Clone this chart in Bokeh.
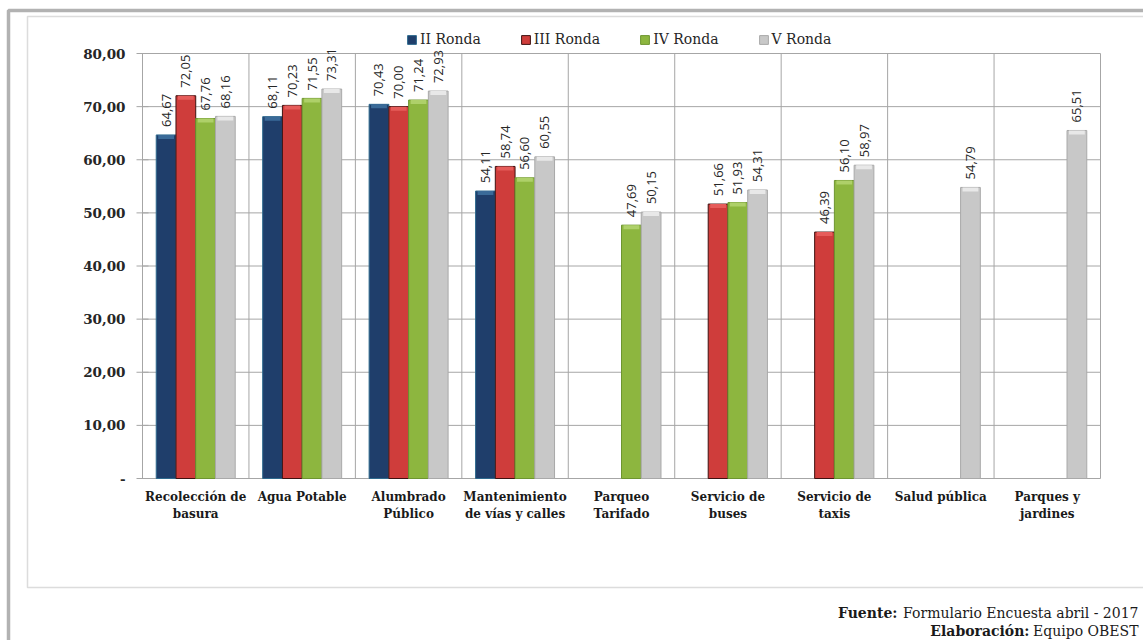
import numpy as np
from bokeh.plotting import figure
from bokeh.models import (ColumnDataSource, Legend, LegendItem, Label,
                          BoxAnnotation, Range1d)
from bokeh.core.properties import value
from bokeh.embed import file_html
from bokeh.resources import INLINE

nan = float("nan")
categories = ["Recolección de\nbasura", "Agua Potable", "Alumbrado\nPúblico",
              "Mantenimiento\nde vías y calles", "Parqueo\nTarifado",
              "Servicio de\nbuses", "Servicio de\ntaxis", "Salud pública",
              "Parques y\njardines"]
series_names = ["II Ronda", "III Ronda", "IV Ronda", "V Ronda"]
ronda_ii = [64.67, 68.11, 70.43, 54.11, nan, nan, nan, nan, nan]
ronda_iii = [72.05, 70.23, 70.00, 58.74, nan, 51.66, 46.39, nan, nan]
ronda_iv = [67.76, 71.55, 71.24, 56.60, 47.69, 51.93, 56.10, nan, nan]
ronda_v = [68.16, 73.31, 72.93, 60.55, 50.15, 54.31, 58.97, 54.79, 65.51]
y_ticks = [0, 10, 20, 30, 40, 50, 60, 70, 80]
y_tick_labels = ["-", "10,00", "20,00", "30,00", "40,00", "50,00", "60,00",
                 "70,00", "80,00"]
source_bold = "Fuente:"
source_text = "Formulario Encuesta abril - 2017"
credit_bold = "Elaboración:"
credit_text = "Equipo OBEST"

# ---- styling ----
fills = ["#1F3E6B", "#CF3D3B", "#8DB63F", "#C8C8C8"]
caps = ["#3A6A98", "#E65C5A", "#AED069", "#E8E8E8"]
lines = ["#2E6A8E", "#3E1211", "#6E9530", "#A9A9A9"]
GRID = "#A6A6A6"
TXT = "#1A1A1A"

# ---- layout (pixels) ----
W, H = 1143, 640
PX_L, PX_R, PX_T, PX_B = 142, 1100, 53, 478
n = len(categories)
ymax = y_ticks[-1]
xu = n / (PX_R - PX_L)          # data units per px (x)
yu = ymax / (PX_B - PX_T)       # data units per px (y)

p = figure(width=W, height=H, output_backend="svg", toolbar_location=None,
           x_range=Range1d(-PX_L * xu, n + (W - PX_R) * xu),
           y_range=Range1d(-(H - PX_B) * yu, ymax + PX_T * yu),
           x_axis_location=None, y_axis_location=None,
           min_border=0, min_border_left=0, min_border_right=0,
           min_border_top=0, min_border_bottom=0)
p.grid.visible = False
p.outline_line_color = None
p.background_fill_color = "white"
p.border_fill_color = "white"

# ---- plot-area grid ----
p.segment(x0=[0] * len(y_ticks), x1=[n] * len(y_ticks), y0=y_ticks,
          y1=y_ticks, line_color=GRID, line_width=1)
p.segment(x0=list(range(n + 1)), x1=list(range(n + 1)), y0=[0] * (n + 1),
          y1=[ymax] * (n + 1), line_color=GRID, line_width=1)
p.scatter(x=[0] * len(y_ticks), y=y_ticks, marker="dash", size=12,
          line_color=GRID, line_width=1)

# ---- value-axis labels ----
p.text(x=[0] * len(y_ticks), y=y_ticks, text=y_tick_labels, x_offset=-17,
       text_align="right", text_baseline="middle",
       text_font=value("DejaVu Serif"), text_font_style="bold",
       text_font_size="13.5px", text_color="#262626")

# ---- category labels ----
centers = [i + 0.5 for i in range(n)]
p.text(x=centers, y=[0] * n, text=categories, y_offset=11,
       text_align="center", text_baseline="top", text_line_height=1.25,
       text_font=value("DejaVu Serif"), text_font_style="bold",
       text_font_size="12px", text_color=TXT)

# ---- bars ----
bw = 0.1855
all_series = [ronda_ii, ronda_iii, ronda_iv, ronda_v]
items = []
for k, vals in enumerate(all_series):
    off = (k - 1.5) * bw
    xs = [c + off for c, v in zip(centers, vals) if not np.isnan(v)]
    ys = [v for v in vals if not np.isnan(v)]
    labs = [f"{v:.2f}".replace(".", ",") for v in ys]
    src = ColumnDataSource(dict(x=xs, top=ys, lab=labs,
                                capb=[v - 4 * yu for v in ys]))
    r = p.vbar(x="x", top="top", bottom=0, width=bw, source=src,
               fill_color=fills[k], line_color=lines[k], line_width=1)
    p.vbar(x="x", top="top", bottom="capb", width=bw * 0.8, source=src,
           fill_color=caps[k], line_color=None)
    items.append(LegendItem(label=series_names[k], renderers=[r]))
    p.text(x="x", y="top", text="lab", source=src, angle=np.pi / 2,
           text_align="left", text_baseline="middle", y_offset=-8,
           text_font=value("Open Sans"), text_font_size="13px",
           text_color="#262626")

legend = Legend(items=items, orientation="horizontal",
                location=(406, H - 47),
                label_text_font="DejaVu Serif", label_text_font_size="14px",
                label_text_color="#262626", glyph_width=11, glyph_height=11,
                spacing=39, label_standoff=3, border_line_color=None,
                background_fill_alpha=0, margin=0, padding=4)
p.add_layout(legend)

# ---- frames ----
p.add_layout(BoxAnnotation(left=8, right=W + 50, top=H - 10, bottom=-50,
                           left_units="screen", right_units="screen",
                           top_units="screen", bottom_units="screen",
                           fill_alpha=0, line_color="black", line_width=3.5))
p.add_layout(BoxAnnotation(left=27, right=W + 50, top=H - 16, bottom=H - 587,
                           left_units="screen", right_units="screen",
                           top_units="screen", bottom_units="screen",
                           fill_alpha=0, line_color="#8C8C8C", line_width=1.5))

# ---- footer ----
for txt, bold, xr, yy in [(source_bold, True, 897, 612),
                          (source_text, False, 1138, 612),
                          (credit_bold, True, 1029, 630),
                          (credit_text, False, 1138, 630)]:
    p.add_layout(Label(x=xr, y=H - yy, x_units="screen", y_units="screen",
                       text=txt, text_align="right", text_baseline="middle",
                       text_font="DejaVu Serif",
                       text_font_style="bold" if bold else "normal",
                       text_font_size="14px", text_color=TXT))

open("out.html", "w").write(file_html(p, INLINE))
